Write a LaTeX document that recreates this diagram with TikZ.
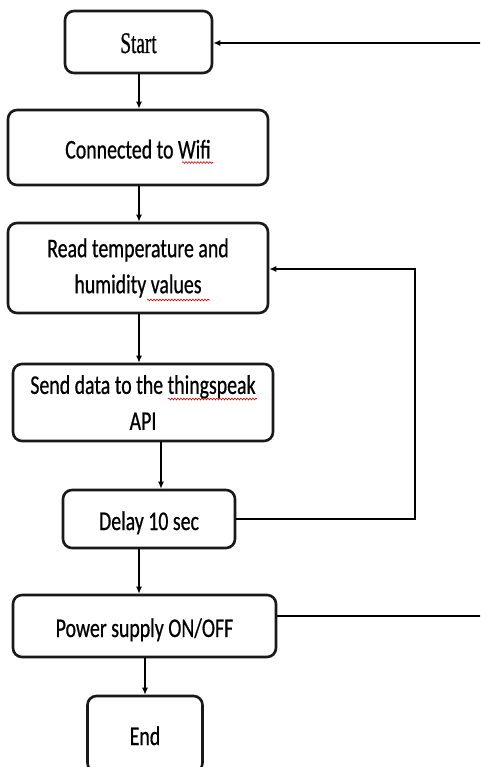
\documentclass[tikz,border=0pt]{standalone}
\usepackage{fontspec}
\usetikzlibrary{arrows.meta,decorations.pathmorphing,calc}
\newfontfamily\calfont[FakeStretch=0.735,FakeBold=0.6]{Carlito}
\newfontfamily\timesfont[FakeStretch=0.64,FakeBold=0.6]{Liberation Serif}
\begin{document}
\begin{tikzpicture}[x=1pt,y=-1pt,
  box/.style={draw=black!90, line width=2.6pt, rounded corners=9pt, inner sep=0pt,
    align=center, font=\calfont\fontsize{27}{36}\selectfont},
  single/.style={text height=22pt, text depth=0pt},
  arr/.style={line width=1.2pt, -{Latex[length=7pt,width=6pt]}},
  ln/.style={line width=1.2pt},
  squig/.style={red!85!black, line width=0.6pt, decorate,
    decoration={snake, amplitude=0.9pt, segment length=3pt}}]
\useasboundingbox (0,0) rectangle (480,767);
\clip (0,0) rectangle (480,767);
\fill[white] (0,0) rectangle (480,767);

\node[box, single, minimum width=147pt, minimum height=62pt, font=\timesfont\fontsize{30}{36}\selectfont] (start) at (138.5,42) {Start};
\node[box, single, minimum width=260pt, minimum height=75pt] (wifi) at (138,147.5) {Connected to Wifi};
\node[box, minimum width=260pt, minimum height=90pt] (read) at (138,268) {Read temperature and\\humidity values};
\node[box, minimum width=260pt, minimum height=77pt] (send) at (143,402.5) {Send data to the thingspeak\\API};
\node[box, single, minimum width=172pt, minimum height=58pt] (delay) at (149,519) {Delay 10 sec};
\node[box, single, minimum width=263pt, minimum height=62pt] (power) at (144.5,626) {Power supply ON/OFF};
\node[box, single, minimum width=115pt, minimum height=76pt] (end) at (145,734) {End};

\coordinate (rtop) at (482,43);
\coordinate (rpow) at (482,616);
\coordinate (lpx) at (415,0);

% main flow
\draw[arr] (start.south -| 139,0) -- (wifi.north -| 139,0);
\draw[arr] (wifi.south -| 139,0) -- (read.north -| 139,0);
\draw[arr] (read.south -| 139,0) -- (send.north -| 139,0);
\draw[arr] (send.south -| 161,0) -- (delay.north -| 161,0);
\draw[arr] (delay.south -| 139,0) -- (power.north -| 139,0);
\draw[arr] (power.south -| 145,0) -- (end.north -| 145,0);

% loop back from delay to read
\draw[arr] (delay.east) -- (delay.east -| lpx) -- ($(read.east -| lpx)+(0,1)$) -- ($(read.east)+(0,1)$);

% power back to start (running off the right edge)
\draw[ln] (power.east |- rpow) -- (rpow);
\draw[arr] (rtop) -- (start.east |- rtop);

% spell-check squiggles
\draw[squig] (182,162.5) -- (213,162.5);
\draw[squig] (147,300) -- (210,300);
\draw[squig] (168,399) -- (257,399);
\end{tikzpicture}
\end{document}
